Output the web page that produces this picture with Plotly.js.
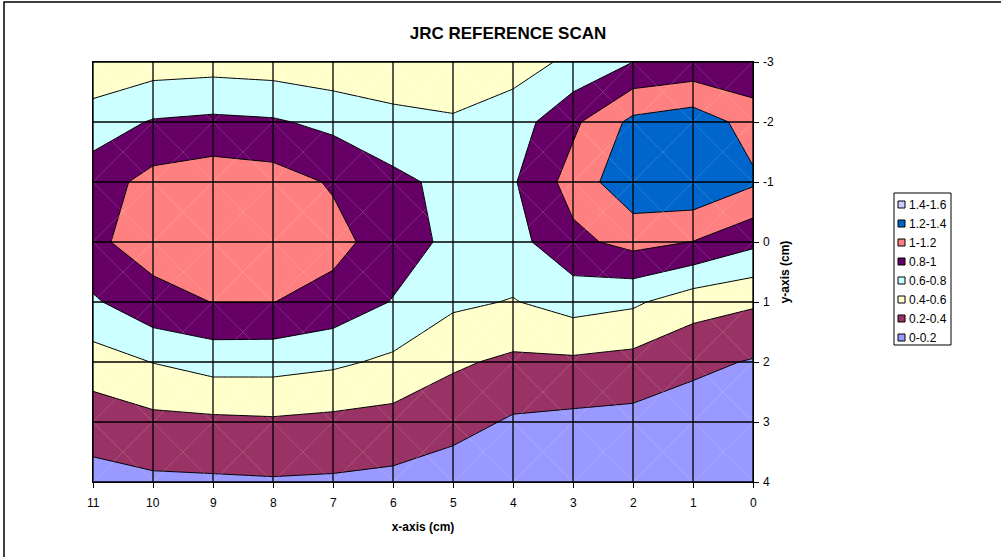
<!DOCTYPE html>
<html>
<head>
<meta charset="utf-8">
<script src="https://cdn.plot.ly/plotly-3.0.1.min.js"></script>
<style>
  html, body { margin: 0; padding: 0; background: #ffffff; }
  #chart { width: 1001px; height: 557px; }
</style>
</head>
<body>
<div id="chart"></div>
<script>
// ---- data ----
const xVals = [0, 1, 2, 3, 4, 5, 6, 7, 8, 9, 10, 11];
const yVals = [-3, -2, -1, 0, 1, 2, 3, 4];
// z values per row (y), indexed by xVals
const zYm3 = [0.82, 0.851, 0.80, 0.64, 0.518, 0.48, 0.483, 0.462, 0.50, 0.519, 0.503, 0.437];
const zYm2 = [1.12, 1.316, 1.25, 0.96, 0.70, 0.62, 0.65, 0.749, 0.823, 0.842, 0.816, 0.704];
const zYm1 = [1.23, 1.38, 1.35, 1.08, 0.78, 0.74, 0.853, 0.98, 1.087, 1.119, 1.068, 0.90];
const zY0  = [0.847, 0.995, 1.065, 0.949, 0.73, 0.75, 0.90, 1.064, 1.12, 1.15, 1.07, 0.97];
const zY1  = [0.427, 0.487, 0.633, 0.683, 0.589, 0.637, 0.79, 0.928, 1.003, 1.003, 0.945, 0.772];
const zY2  = [0.186, 0.245, 0.335, 0.365, 0.361, 0.43, 0.561, 0.637, 0.676, 0.68, 0.605, 0.511];
const zY3  = [0.10, 0.10, 0.139, 0.153, 0.176, 0.272, 0.328, 0.351, 0.373, 0.36, 0.347, 0.284];
const zY4  = [0.05, 0.05, 0.07, 0.08, 0.07, 0.09, 0.153, 0.175, 0.183, 0.174, 0.166, 0.139];

// bands, lowest first
const bandLabels = ['0-0.2', '0.2-0.4', '0.4-0.6', '0.6-0.8', '0.8-1', '1-1.2', '1.2-1.4', '1.4-1.6'];
const bandColors = ['#9999FF', '#993366', '#FFFFCC', '#CCFFFF', '#660066', '#FF8080', '#0066CC', '#CCCCFF'];
const levelStart = 0.2, levelEnd = 1.4, levelStep = 0.2;

const xTickLabels = ['0','1','2','3','4','5','6','7','8','9','10','11'];
const yTickLabels = ['-3','-2','-1','0','1','2','3','4'];

// ---- build ----
const zGrid = [zYm3, zYm2, zYm1, zY0, zY1, zY2, zY3, zY4];
const nb = bandColors.length - 1;
const colorscale = bandColors.map((c, i) => [i / nb, c]);

const FONT = 'Liberation Sans, Arial, sans-serif';

const traces = [{
  type: 'contour',
  x: xVals, y: yVals, z: zGrid,
  autocontour: false,
  contours: { start: levelStart, end: levelEnd, size: levelStep, coloring: 'fill', showlines: true },
  line: { color: '#000000', width: 1, smoothing: 0 },
  colorscale: colorscale,
  showscale: false,
  showlegend: false,
  hoverinfo: 'skip'
}];

// page geometry
const mL = 93, mR = 248, mT = 62, mB = 75, W = 1001, H = 557;
const pw = W - mL - mR, ph = H - mT - mB;
const px2x = p => (p - mL) / pw;
const px2y = p => (H - mB - p) / ph;

const shapes = [];
const annotations = [];
const xMin = Math.min(...xVals), xMax = Math.max(...xVals);
const yMin = Math.min(...yVals), yMax = Math.max(...yVals);
// faint diagonal lattice
for (let i = 0; i < xVals.length - 1; i++) {
  for (let j = 0; j < yVals.length - 1; j++) {
    shapes.push({ type: 'line', xref: 'x', yref: 'y', layer: 'above',
      x0: xVals[i], x1: xVals[i + 1], y0: yVals[j], y1: yVals[j + 1],
      line: { color: 'rgba(255,255,255,0.16)', width: 1 } });
    shapes.push({ type: 'line', xref: 'x', yref: 'y', layer: 'above',
      x0: xVals[i], x1: xVals[i + 1], y0: yVals[j + 1], y1: yVals[j],
      line: { color: 'rgba(255,255,255,0.16)', width: 1 } });
  }
}
// grid lines on top of the fill
xVals.forEach(v => shapes.push({ type: 'line', xref: 'x', yref: 'y', layer: 'above',
  x0: v, x1: v, y0: yMin, y1: yMax, line: { color: '#000', width: 1.3 } }));
yVals.forEach(v => shapes.push({ type: 'line', xref: 'x', yref: 'y', layer: 'above',
  x0: xMin, x1: xMax, y0: v, y1: v, line: { color: '#000', width: 1.3 } }));

// tick labels (as text annotations for exact placement)
xVals.forEach((v, i) => annotations.push({ xref: 'x', yref: 'paper', x: v, y: px2y(503),
  xanchor: 'center', yanchor: 'middle', showarrow: false, text: xTickLabels[i],
  font: { family: FONT, size: 12, color: '#000' } }));
yVals.forEach((v, i) => annotations.push({ xref: 'paper', yref: 'y', x: px2x(761), y: v,
  xanchor: 'left', yanchor: 'middle', showarrow: false, text: yTickLabels[i],
  font: { family: FONT, size: 12, color: '#000' } }));

// chart-area border
shapes.push({ type: 'rect', xref: 'paper', yref: 'paper', layer: 'above',
  x0: px2x(4), x1: px2x(W + 10), y0: px2y(H + 10), y1: px2y(2),
  line: { color: '#000', width: 1.5 }, fillcolor: 'rgba(0,0,0,0)' });

// legend (drawn manually: box, swatches, labels), highest band on top
const legL = 894, legR = 951, legT = 193, legB = 345, rowY0 = 204.5, rowStep = 19;
shapes.push({ type: 'rect', xref: 'paper', yref: 'paper', layer: 'above',
  x0: px2x(legL), x1: px2x(legR), y0: px2y(legB), y1: px2y(legT),
  line: { color: '#000', width: 1 }, fillcolor: '#ffffff' });
for (let k = 0; k < bandColors.length; k++) {
  const bi = bandColors.length - 1 - k;
  const cy = rowY0 + k * rowStep;
  shapes.push({ type: 'rect', xref: 'paper', yref: 'paper', layer: 'above',
    x0: px2x(898), x1: px2x(905), y0: px2y(cy + 3.5), y1: px2y(cy - 3.5),
    line: { color: '#000', width: 1 }, fillcolor: bandColors[bi] });
  annotations.push({ xref: 'paper', yref: 'paper', x: px2x(907), y: px2y(cy + 0.5),
    xanchor: 'left', yanchor: 'middle', showarrow: false, text: bandLabels[bi],
    font: { family: FONT, size: 12, color: '#000' } });
}

const layout = {
  width: W, height: H,
  margin: { l: mL, r: mR, t: mT, b: mB, pad: 0 },
  paper_bgcolor: '#ffffff', plot_bgcolor: '#ffffff',
  font: { family: FONT, color: '#000', size: 12 },
  title: { text: '<b>JRC REFERENCE SCAN</b>', font: { family: FONT, size: 17, color: '#000' },
    xref: 'container', x: 508 / W, xanchor: 'center', yref: 'container', y: 1 - 33 / H, yanchor: 'middle' },
  xaxis: {
    range: [xMax, xMin], tickvals: xVals, showticklabels: false,
    ticks: 'outside', ticklen: 5, tickcolor: '#000', tickwidth: 1,
    showgrid: false, zeroline: false, showline: true, linecolor: '#000', linewidth: 1, mirror: true,
    title: { text: '<b>x-axis (cm)</b>', font: { family: FONT, size: 12, color: '#000' }, standoff: 35 },
    layer: 'above traces'
  },
  yaxis: {
    range: [yMax, yMin], tickvals: yVals, showticklabels: false, side: 'right',
    ticks: 'outside', ticklen: 5, tickcolor: '#000', tickwidth: 1,
    showgrid: false, zeroline: false, showline: true, linecolor: '#000', linewidth: 1, mirror: true,
    title: { text: '<b>y-axis (cm)</b>', font: { family: FONT, size: 12, color: '#000' }, standoff: 22 },
    layer: 'above traces'
  },
  shapes: shapes,
  annotations: annotations,
  showlegend: false
};

Plotly.newPlot('chart', traces, layout, { displayModeBar: false, staticPlot: true });
</script>
</body>
</html>
